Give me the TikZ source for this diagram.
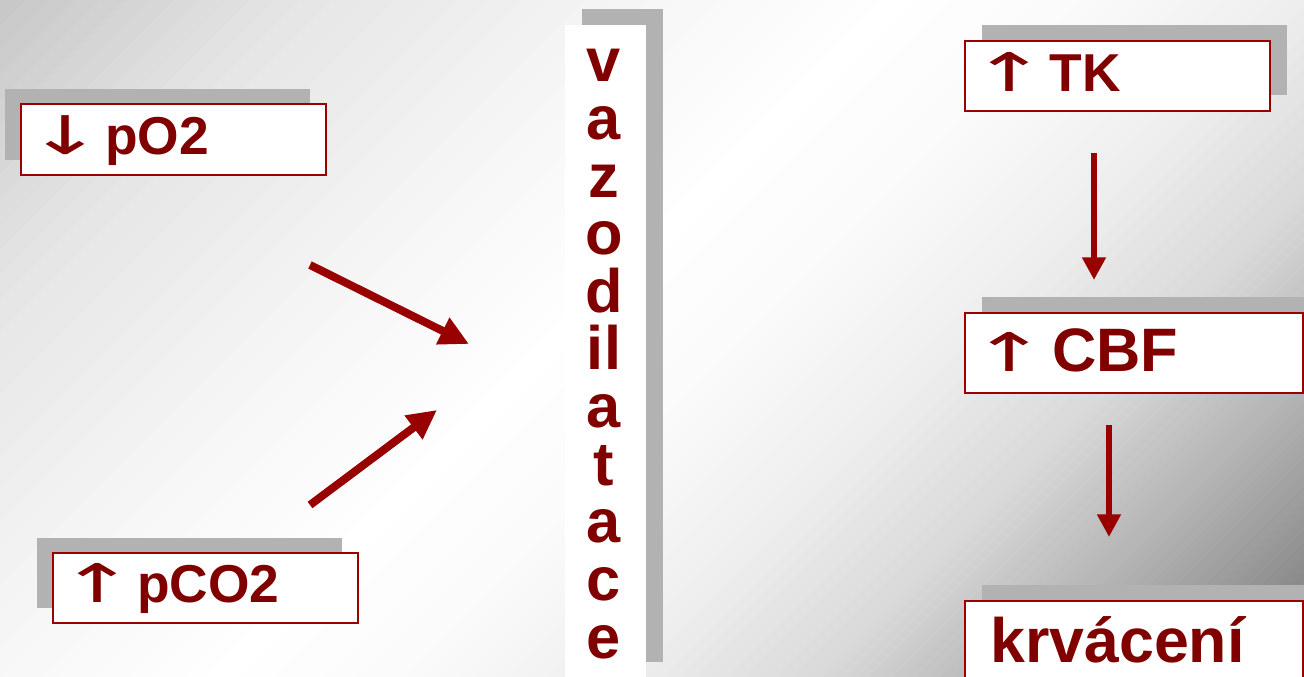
\documentclass[tikz,border=0pt]{standalone}
\usepackage{fontspec}
\setmainfont{Liberation Sans}
\newfontfamily\arrowfont{DejaVu Sans}
\usepackage{graphicx}
\usepackage{tikz}
\usetikzlibrary{arrows.meta,shadows}

\definecolor{txtred}{HTML}{800000}
\definecolor{linered}{HTML}{990000}
\definecolor{shadowgray}{HTML}{B2B2B2}

\newcommand{\upar}{\kern-14pt\scalebox{1.7}[1]{\arrowfont\mdseries\fontsize{40}{40}\selectfont ↑}\kern-12pt}
\newcommand{\downar}{\kern-14pt\scalebox{1.7}[1]{\arrowfont\mdseries\fontsize{40}{40}\selectfont ↓}\kern-12pt}

\tikzset{
  slidebox/.style={draw=linered, line width=1.5pt, fill=white, text=txtred,
    align=left, inner ysep=0pt, inner xsep=19pt, text depth=6pt},
  shadowleft/.style={general shadow={fill=shadowgray, shadow xshift=-12pt, shadow yshift=11.5pt}},
  shadowright/.style={general shadow={fill=shadowgray, shadow xshift=12.5pt, shadow yshift=12pt}},
  colletter/.style={text=txtred, anchor=base, inner sep=0pt,
    font=\bfseries\fontsize{46}{46}\selectfont},
  slantflow/.style={draw=linered, line width=6pt, -{Triangle[length=22pt,width=21pt]}},
  downflow/.style={draw=linered, line width=5pt, -{Triangle[length=17pt,width=17pt]}},
}

\begin{document}
\begin{tikzpicture}[x=0.75pt, y=-0.75pt]
\useasboundingbox (0,0) rectangle (1304,677);
\clip (0,0) rectangle (1304,677);
% background, grey to white to grey along x+y
\foreach \wa/\ga/\wb/\gb in {0/78/300/90, 300/90/680/97, 680/97/900/100, 900/100/1100/98,
    1100/98/1310/93, 1310/93/1500/85, 1500/85/1640/74, 1640/74/1720/68, 1720/68/1890/54,
    1890/54/1990/50}
  \foreach \k in {0,...,11} {
    \pgfmathsetmacro{\wl}{\wa+(\wb-\wa)*\k/12}
    \pgfmathsetmacro{\wr}{\wa+(\wb-\wa)*(\k+1)/12+1}
    \pgfmathsetmacro{\g}{\ga+(\gb-\ga)*(\k+0.5)/12}
    \fill[white!\g!black] (\wl,0) -- (\wr,0) -- ({\wr-1000},1000) -- ({\wl-1000},1000) -- cycle;
  }

% left causes
\node[slidebox, shadowleft, minimum width=228.75pt, minimum height=53.25pt, text width=190.75pt,
  text height=29.25pt, font=\bfseries\fontsize{40}{40}\selectfont] (po2) at (173.5,139.5) {\downar{} pO2};
\node[slidebox, shadowleft, minimum width=228.75pt, minimum height=52.5pt, text width=190.75pt,
  text height=27pt, font=\bfseries\fontsize{40}{40}\selectfont] (pco2) at (205.5,588) {\upar{} pCO2};

% middle column
\node[fill=white, shadowright, inner sep=0pt, minimum width=60.75pt, minimum height=489.75pt]
  (column) at (605.5,351.5) {};
\foreach \ch [count=\i] in {v,a,z,o,d,il,a,t,a,c,e}
  \node[colletter] (ch\i) at (604,{82+57.6*(\i-1)}) {\ch};

% right chain
\node[slidebox, shadowright, minimum width=228.75pt, minimum height=52.5pt, text width=190.75pt,
  text height=30pt, font=\bfseries\fontsize{40}{40}\selectfont] (tk) at (1117.5,76) {\upar{} TK};
\node[slidebox, shadowright, minimum width=253.5pt, minimum height=60pt, text width=215.5pt,
  text height=34.5pt, font=\bfseries\fontsize{46}{46}\selectfont] (cbf) at (1134,353) {\upar{} CBF};
\node[slidebox, shadowright, minimum width=253.5pt, minimum height=60pt, text width=215.5pt,
  text height=37.5pt, font=\bfseries\fontsize{47}{47}\selectfont] (bleed) at (1134,641) {krvácení};

% arrows
\coordinate (o2tail) at (310,265);
\coordinate (o2tip) at (469,344);
\coordinate (co2tail) at (310,505);
\coordinate (co2tip) at (437,410);
\coordinate (tktail) at (1094,153);
\coordinate (tktip) at (1094,280);
\coordinate (cbftail) at (1109,425);
\coordinate (cbftip) at (1109,537);
\draw[slantflow] (o2tail) -- (o2tip);
\draw[slantflow] (co2tail) -- (co2tip);
\draw[downflow] (tktail) -- (tktip);
\draw[downflow] (cbftail) -- (cbftip);
\end{tikzpicture}
\end{document}
